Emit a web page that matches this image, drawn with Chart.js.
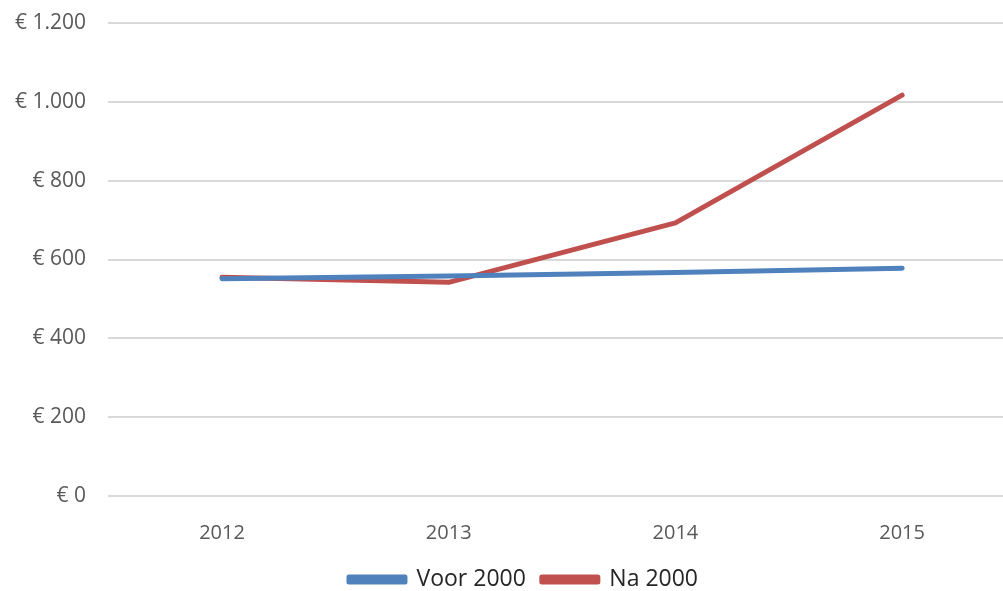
<!DOCTYPE html>
<html>
<head>
<meta charset="utf-8">
<script src="https://cdn.jsdelivr.net/npm/chart.js@4/dist/chart.umd.min.js"></script>
<style>
  html, body { margin: 0; padding: 0; background: #fff; }
  #wrap { width: 1003px; height: 591px; }
</style>
</head>
<body>
<div id="wrap"><canvas id="chart" width="1003" height="591"></canvas></div>
<script>
// Data
const years = [2012, 2013, 2014, 2015];
const voor2000 = [551, 558, 567, 578];
const na2000 = [555, 542, 693, 1017];
const yTicks = [0, 200, 400, 600, 800, 1000, 1200];

const euro = (v) => "€ " + v.toString().replace(/\B(?=(\d{3})+(?!\d))/g, ".");

// keep the legend strip at a fixed height, nudged a bit right
const legendTweak = {
    id: "legendTweak",
    beforeInit(chart) {
        const fit = chart.legend.fit;
        chart.legend.fit = function () {
            fit.call(this);
            this.height = 39;
        };
    },
    afterLayout(chart) {
        chart.legend.left += 22;
        chart.legend.right += 22;
    },
};

const ctx = document.getElementById("chart").getContext("2d");
new Chart(ctx, {
    type: "line",
    data: {
        datasets: [
            {
                label: "Voor 2000",
                data: years.map((y, i) => ({ x: y, y: voor2000[i] })),
                borderColor: "#4F81BD",
                backgroundColor: "#4F81BD",
                borderWidth: 5,
                borderCapStyle: "round",
                borderJoinStyle: "round",
                pointRadius: 0,
                tension: 0,
            },
            {
                label: "Na 2000",
                data: years.map((y, i) => ({ x: y, y: na2000[i] })),
                borderColor: "#C0504D",
                backgroundColor: "#C0504D",
                borderWidth: 5,
                borderCapStyle: "round",
                borderJoinStyle: "round",
                pointRadius: 0,
                tension: 0,
            },
        ],
    },
    options: {
        responsive: false,
        animation: false,
        layout: { padding: { top: 23, right: 0, left: 0, bottom: 0 } },
        scales: {
            x: {
                type: "linear",
                min: 2011.497,
                max: 2015.445,
                grid: { display: false },
                border: { display: false },
                afterBuildTicks: (scale) => {
                    scale.ticks = years.map((v) => ({ value: v }));
                },
                afterFit: (scale) => {
                    scale.height = 56;
                },
                ticks: {
                    callback: (v) => String(v),
                    color: "#595959",
                    font: { family: "'Open Sans', sans-serif", size: 20 },
                    padding: 17,
                    maxRotation: 0,
                },
            },
            y: {
                min: 0,
                max: 1200,
                afterBuildTicks: (scale) => {
                    scale.ticks = yTicks.map((v) => ({ value: v }));
                },
                afterFit: (scale) => {
                    scale.width = 108;
                    scale.paddingTop = 0;
                    scale.paddingBottom = 0;
                },
                grid: { color: "#d9d9d9", lineWidth: 2, drawTicks: false },
                border: { display: false },
                ticks: {
                    callback: (v) => euro(v),
                    color: "#595959",
                    font: { family: "'Open Sans', sans-serif", size: 21 },
                    padding: 22,
                },
            },
        },
        plugins: {
            legend: {
                position: "bottom",
                labels: {
                    boxWidth: 56,
                    boxHeight: 5,
                    padding: 16,
                    color: "#262626",
                    font: { family: "'Open Sans', sans-serif", size: 23 },
                },
            },
            tooltip: { enabled: false },
        },
    },
    plugins: [legendTweak],
});
</script>
</body>
</html>
